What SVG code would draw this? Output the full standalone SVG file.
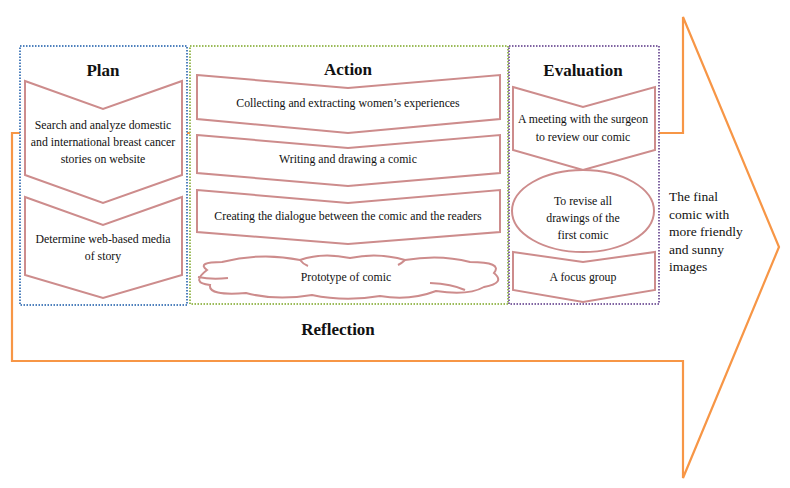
<svg xmlns="http://www.w3.org/2000/svg" width="790" height="488" viewBox="0 0 790 488">
<style>
.arrow{fill:none;stroke:#f79646;stroke-width:2.2;stroke-linejoin:miter}
.frame{fill:#fff;stroke-width:2;stroke-dasharray:1.5 1.5}
.shape{fill:#fff;stroke:#cd8c8c;stroke-width:2}
.t{font-family:'Liberation Serif','DejaVu Serif',serif;font-size:11.8px;fill:#111;text-anchor:middle}
.h{font-family:'Liberation Serif','DejaVu Serif',serif;font-size:17px;font-weight:bold;fill:#111;text-anchor:middle}
.f{font-family:'Liberation Serif','DejaVu Serif',serif;font-size:13.5px;fill:#111}
</style>
<rect width="790" height="488" fill="#fff"/>
<g id="connectors">
<path class="arrow" d="M12,361 L12,133 L683,133 L683,17 L779,247 L683,478 L683,361 Z"/>
</g>
<g id="plan">
<rect class="frame" x="20" y="46" width="167" height="259" stroke="#4f81bd"/>
<text class="h" x="103" y="76">Plan</text>
<g id="plan1">
<path class="shape" d="M25,81 L103,109 L182,81 L182,175 L103,203 L25,175 Z"/>
<text class="t" x="103" y="129">Search and analyze domestic</text>
<text class="t" x="103" y="146">and international breast cancer</text>
<text class="t" x="103" y="163">stories on website</text>
</g>
<g id="plan2">
<path class="shape" d="M25,197 L103,225 L182,197 L182,275 L103,298 L25,275 Z"/>
<text class="t" x="103" y="243">Determine web-based media</text>
<text class="t" x="103" y="260">of story</text>
</g>
</g>
<g id="action">
<rect class="frame" x="190" y="46" width="318" height="258" stroke="#9bbb59"/>
<text class="h" x="348" y="75">Action</text>
<g id="action1">
<path class="shape" d="M197,75 L348,88 L500,75 L500,119 L348,133 L197,119 Z"/>
<text class="t" x="348" y="107">Collecting and extracting women’s experiences</text>
</g>
<g id="action2">
<path class="shape" d="M197,135 L348,148 L500,135 L500,173 L348,186 L197,173 Z"/>
<text class="t" x="348" y="163">Writing and drawing a comic</text>
</g>
<g id="action3">
<path class="shape" d="M197,190 L348,203 L500,190 L500,232 L348,244 L197,232 Z"/>
<text class="t" x="348" y="220">Creating the dialogue between the comic and the readers</text>
</g>
<g id="prototype">
<path class="shape" d="M207,270 Q196,262 222,262 Q262,252 300,260 Q322,252 350,258 Q378,252 405,260 Q440,254 470,262 Q503,262 494,273 Q506,283 484,287 Q468,296 436,291 Q410,301 380,296 Q345,302 312,295 Q276,301 246,293 Q208,296 210,285 Q190,283 207,270 Z"/>
<path fill="none" stroke="#cd8c8c" stroke-width="2" d="M198,277 Q212,280 228,278 M430,283 Q452,284 465,290 M300,260 Q303,264 308,266 M405,260 Q402,263 398,265"/>
<text class="t" x="346" y="281">Prototype of comic</text>
</g>
</g>
<g id="evaluation">
<rect class="frame" x="509" y="46" width="150" height="258" stroke="#8064a2"/>
<text class="h" x="583" y="76">Evaluation</text>
<g id="eval1">
<path class="shape" d="M513,87 L583,107 L655,87 L655,150 L583,170 L513,150 Z"/>
<text class="t" x="583" y="123">A meeting with the surgeon</text>
<text class="t" x="583" y="141">to review our comic</text>
</g>
<g id="eval2">
<ellipse class="shape" cx="583" cy="211" rx="71" ry="41"/>
<text class="t" x="583" y="205">To revise all</text>
<text class="t" x="583" y="222">drawings of the</text>
<text class="t" x="583" y="239">first comic</text>
</g>
<g id="eval3">
<path class="shape" d="M513,252 L583,262 L655,252 L655,290 L583,302 L513,290 Z"/>
<text class="t" x="583" y="281">A focus group</text>
</g>
</g>
<g id="final">
<text class="f" x="669" y="201">The final</text>
<text class="f" x="669" y="219">comic with</text>
<text class="f" x="669" y="236">more friendly</text>
<text class="f" x="669" y="254">and sunny</text>
<text class="f" x="669" y="271">images</text>
</g>
<g id="reflection">
<text class="h" x="338" y="335">Reflection</text>
</g>
</svg>
